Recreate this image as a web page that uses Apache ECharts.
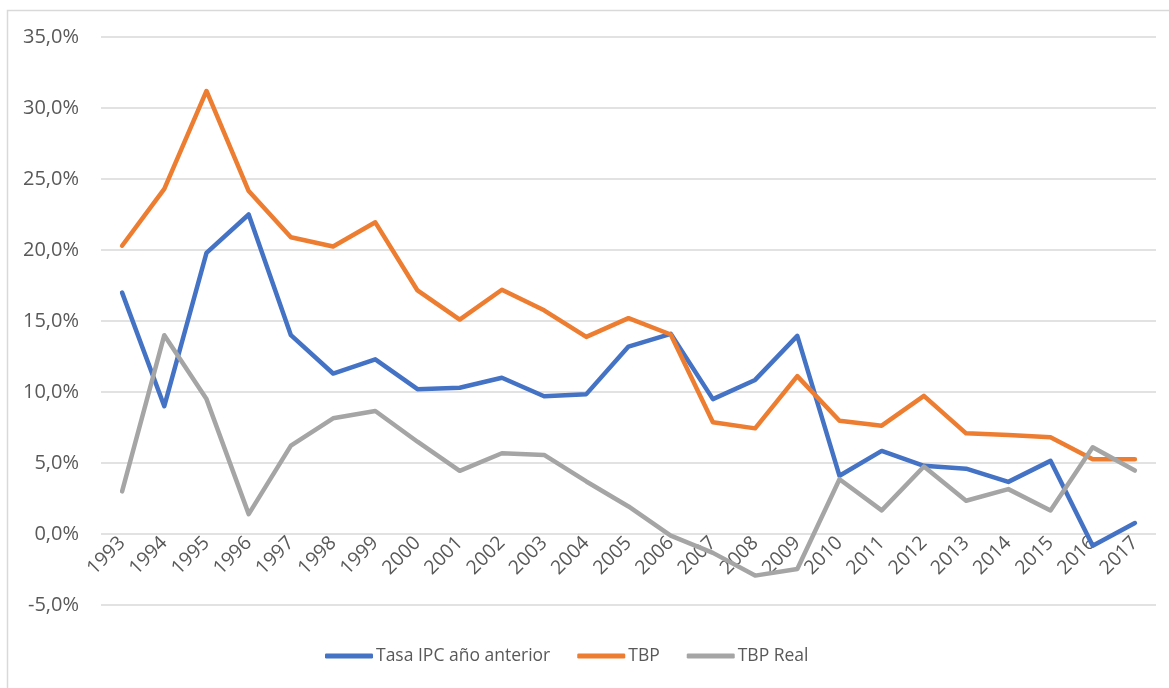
<!DOCTYPE html>
<html>
<head>
<meta charset="utf-8">
<script src="https://cdn.jsdelivr.net/npm/echarts@6/dist/echarts.min.js"></script>
<style>
  html, body { margin: 0; padding: 0; background: #fff; }
  #myChart { width: 1169px; height: 688px; }
</style>
</head>
<body>
<div id="myChart"></div>
<script>
// años
const years = ["1993", "1994", "1995", "1996", "1997", "1998", "1999", "2000", "2001", "2002",
  "2003", "2004", "2005", "2006", "2007", "2008", "2009", "2010", "2011", "2012",
  "2013", "2014", "2015", "2016", "2017"];

// valores en %
const tasaIPC = [17.0, 9.0, 19.8, 22.5, 14.0, 11.3, 12.3, 10.2, 10.3, 11.0,
  9.7, 9.85, 13.2, 14.1, 9.5, 10.85, 13.95, 4.1, 5.85, 4.8,
  4.6, 3.67, 5.15, -0.82, 0.77];
const tbp = [20.3, 24.3, 31.2, 24.15, 20.9, 20.25, 21.95, 17.15, 15.1, 17.2,
  15.75, 13.88, 15.2, 14.05, 7.87, 7.44, 11.12, 7.98, 7.63, 9.73,
  7.09, 6.97, 6.81, 5.27, 5.27];
const tbpReal = [3.0, 14.0, 9.5, 1.4, 6.22, 8.15, 8.66, 6.5, 4.45, 5.69,
  5.57, 3.7, 1.94, -0.12, -1.33, -2.93, -2.46, 3.86, 1.66, 4.75,
  2.34, 3.16, 1.66, 6.11, 4.47];

const seriesNames = ["Tasa IPC año anterior", "TBP", "TBP Real"];
const colors = ["#4472C4", "#ED7D31", "#A5A5A5"];

const font = "'Open Sans', 'Liberation Sans', sans-serif";
const textColor = "#595959";

const yMin = -5;
const yMax = 35;
const gridTop = 37;
const gridBottom = 83;

const chart = echarts.init(document.getElementById("myChart"));

const mkLine = (name, data, color) => ({
  name: name,
  type: "line",
  data: data,
  symbol: "none",
  smooth: false,
  color: color,
  lineStyle: { color: color, width: 4.5, cap: "round", join: "round" },
});

// el eje x va sobre el 0 (como en Excel)
const plotH = 688 - gridTop - gridBottom;
const zeroOffset = -plotH * (0 - yMin) / (yMax - yMin);

const options = {
  animation: false,
  backgroundColor: "#fff",
  textStyle: { fontFamily: font, color: textColor },
  grid: { left: 101, right: 13, top: gridTop, bottom: gridBottom, containLabel: false },
  graphic: [
    {
      type: "rect",
      shape: { x: 7.5, y: 10.5, width: 1200, height: 700 },
      style: { fill: "none", stroke: "#D9D9D9", lineWidth: 1.5 },
      silent: true,
    },
  ],
  legend: {
    data: seriesNames,
    bottom: 18,
    left: 320,
    icon: "roundRect",
    itemWidth: 48,
    itemHeight: 5,
    itemGap: 27,
    textStyle: { fontFamily: font, color: textColor, fontSize: 17.5, padding: [0, 0, 0, -2] },
  },
  xAxis: {
    type: "category",
    data: years,
    boundaryGap: true,
    offset: zeroOffset,
    axisLine: { show: false, onZero: false },
    axisTick: { show: false },
    axisLabel: {
      interval: 0,
      rotate: 45,
      margin: 6,
      fontSize: 19.5,
      color: textColor,
      fontFamily: font,
    },
  },
  yAxis: {
    type: "value",
    min: yMin,
    max: yMax,
    interval: 5,
    axisLine: { show: false },
    axisTick: { show: false },
    splitLine: { lineStyle: { color: "#D9D9D9", width: 1.5 } },
    axisLabel: {
      margin: 22,
      fontSize: 20,
      color: textColor,
      fontFamily: font,
      formatter: (v) => v.toFixed(1).replace(".", ",") + "%",
    },
  },
  series: [
    mkLine(seriesNames[0], tasaIPC, colors[0]),
    mkLine(seriesNames[1], tbp, colors[1]),
    mkLine(seriesNames[2], tbpReal, colors[2]),
  ],
};

chart.setOption(options);
</script>
</body>
</html>
